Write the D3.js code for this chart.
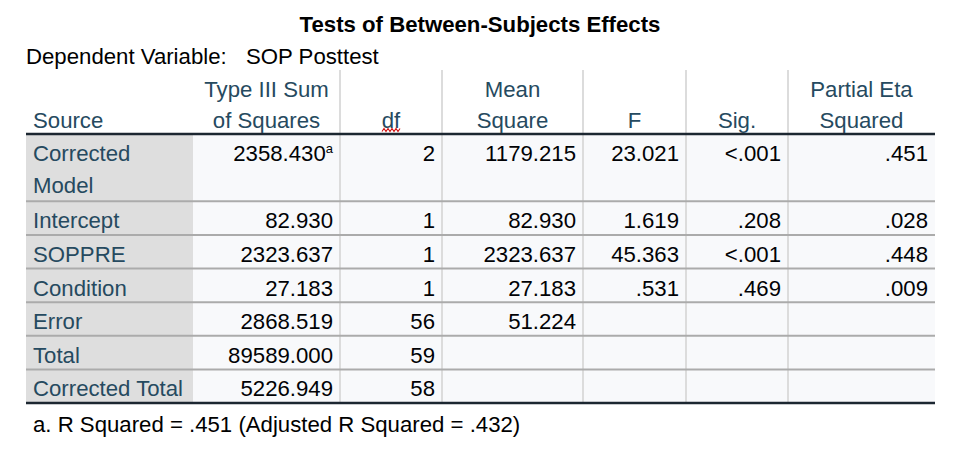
<!DOCTYPE html>
<html>
<head>
<meta charset="utf-8">
<script src="https://cdn.jsdelivr.net/npm/d3@7"></script>
<style>
  body { margin: 0; background: #fff; }
  svg text { font-family: "Liberation Sans", Arial, sans-serif; }
</style>
</head>
<body>
<svg id="table" width="965" height="454"></svg>
<script>
// table contents
const sources = ['Corrected Model', 'Intercept', 'SOPPRE', 'Condition', 'Error', 'Total', 'Corrected Total'];
const sumSquares = ['2358.430', '82.930', '2323.637', '27.183', '2868.519', '89589.000', '5226.949'];
const dfs = ['2', '1', '1', '1', '56', '59', '58'];
const meanSquares = ['1179.215', '82.930', '2323.637', '27.183', '51.224', '', ''];
const fValues = ['23.021', '1.619', '45.363', '.531', '', '', ''];
const sigValues = ['<.001', '.208', '<.001', '.469', '', '', ''];
const etaValues = ['.451', '.028', '.448', '.009', '', '', ''];
const headers = [['', 'Source'], ['Type III Sum', 'of Squares'], ['', 'df'], ['Mean', 'Square'], ['', 'F'], ['', 'Sig.'], ['Partial Eta', 'Squared']];

const svg = d3.select('#table');
const headColor = '#264a60';
const numColor = '#010205';
const fontSize = 22.2;

// column edges
const edges = [26, 193, 340, 442, 583, 686, 788, 935];
const rowSpan = d => d === 'Corrected Model' ? 2 : 1;

const yScale = d3.scaleLinear().domain([0, 8]).range([134, 403]);

let acc = 0;
const rows = sources.map((s, i) => {
    const r = {source: s, start: acc, span: rowSpan(s),
        cells: [sumSquares[i], dfs[i], meanSquares[i], fValues[i], sigValues[i], etaValues[i]]};
    acc += r.span;
    return r;
});

svg.append('text')
    .attr('x', 480).attr('y', 32)
    .attr('text-anchor', 'middle')
    .attr('font-weight', 'bold')
    .attr('font-size', fontSize)
    .attr('fill', '#000')
    .text('Tests of Between-Subjects Effects');

svg.append('text').attr('x', 26).attr('y', 64)
    .attr('font-size', fontSize).attr('fill', '#000')
    .text('Dependent Variable:');
svg.append('text').attr('x', 246).attr('y', 64)
    .attr('font-size', fontSize).attr('fill', '#000')
    .text('SOP Posttest');

// backgrounds
const bodyTop = yScale(0), bodyBot = yScale(acc);
svg.append('rect')
    .attr('x', edges[0]).attr('y', bodyTop)
    .attr('width', edges[1] - edges[0]).attr('height', bodyBot - bodyTop)
    .attr('fill', '#dedede');
svg.append('rect')
    .attr('x', edges[1]).attr('y', bodyTop)
    .attr('width', edges[7] - edges[1]).attr('height', bodyBot - bodyTop)
    .attr('fill', '#f8f9fb');

// vertical separators
svg.selectAll('line.vsep').data(edges.slice(2, 7))
    .enter().append('line')
        .attr('class', 'vsep')
        .attr('x1', d => d).attr('x2', d => d)
        .attr('y1', 70).attr('y2', bodyBot)
        .attr('stroke', '#dcdcdc').attr('stroke-width', 2);

// row separators
svg.selectAll('line.hsep').data(rows.slice(1))
    .enter().append('line')
        .attr('class', 'hsep')
        .attr('x1', edges[0]).attr('x2', edges[7])
        .attr('y1', d => yScale(d.start)).attr('y2', d => yScale(d.start))
        .attr('stroke', '#ababab').attr('stroke-width', 2);

[bodyTop, bodyBot].forEach(y => {
    svg.append('line')
        .attr('x1', edges[0]).attr('x2', edges[7])
        .attr('y1', y).attr('y2', y)
        .attr('stroke', '#1c2731').attr('stroke-width', 2.5);
});

// headers
headers.forEach((h, i) => {
    const x = i === 0 ? edges[0] + 7 : (edges[i] + edges[i + 1]) / 2;
    h.forEach((line, j) => {
        svg.append('text')
            .attr('x', x).attr('y', 97 + j * 31)
            .attr('text-anchor', i === 0 ? 'start' : 'middle')
            .attr('font-size', fontSize)
            .attr('fill', headColor)
            .text(line);
    });
});

// spellcheck squiggle under df
const sq = d3.range(0, 10).map(k => [382 + k * 2, 130 + (k % 2 ? -1.5 : 1.5)]);
svg.append('path')
    .attr('d', d3.line()(sq))
    .attr('fill', 'none').attr('stroke', '#d01010').attr('stroke-width', 1.1);

// body
const rowG = svg.selectAll('g.row').data(rows)
    .enter().append('g').attr('class', 'row')
    .attr('transform', d => `translate(0,${yScale(d.start)})`);

rowG.each(function(d) {
    const g = d3.select(this);
    const labelLines = d.span === 2 ? d.source.split(' ') : [d.source];
    labelLines.forEach((line, j) => {
        g.append('text')
            .attr('x', edges[0] + 7).attr('y', 27 + j * 32)
            .attr('font-size', fontSize)
            .attr('fill', headColor)
            .text(line);
    });
    d.cells.forEach((v, c) => {
        if (!v) return;
        const t = g.append('text')
            .attr('x', edges[c + 2] - 7).attr('y', 27)
            .attr('text-anchor', 'end')
            .attr('font-size', fontSize)
            .attr('fill', numColor)
            .text(v);
        if (d.source === 'Corrected Model' && c === 0) {
            t.append('tspan')
                .attr('font-size', 13)
                .attr('dy', -8)
                .text('a');
        }
    });
});

svg.append('text').attr('x', 33).attr('y', 432)
    .attr('font-size', fontSize).attr('fill', '#000')
    .text('a. R Squared = .451 (Adjusted R Squared = .432)');
</script>
</body>
</html>
